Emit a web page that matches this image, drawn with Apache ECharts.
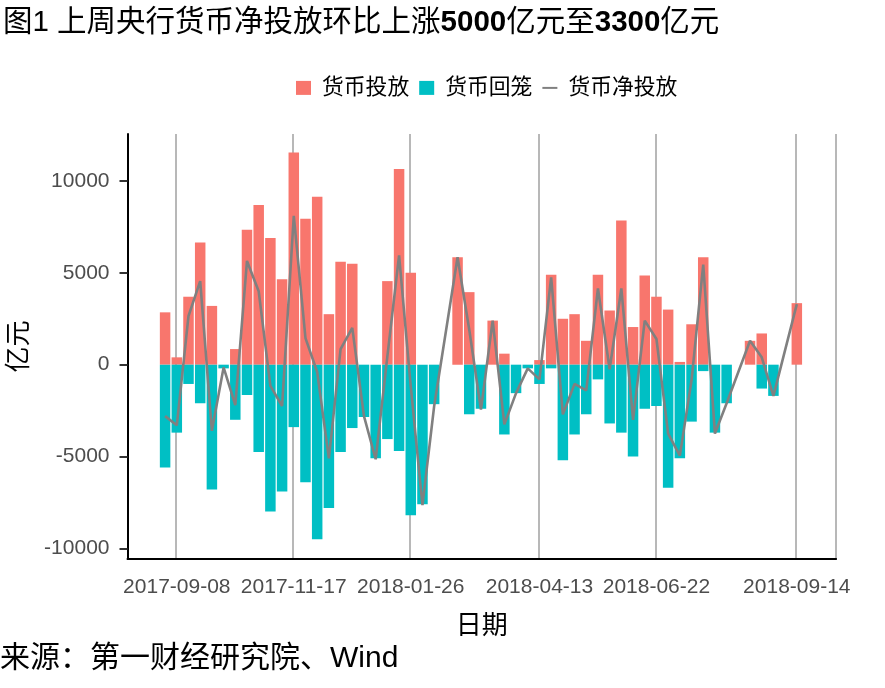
<!DOCTYPE html>
<html><head><meta charset="utf-8">
<script src="https://cdn.jsdelivr.net/npm/echarts@6/dist/echarts.min.js"></script>
<style>html,body{margin:0;padding:0;background:#fff}#c{width:885px;height:688px}</style>
</head><body><div id="c"></div>
<script>
const weeks = ['2017-09-01','2017-09-08','2017-09-15','2017-09-22','2017-09-29','2017-10-06','2017-10-13','2017-10-20','2017-10-27','2017-11-03','2017-11-10','2017-11-17','2017-11-24','2017-12-01','2017-12-08','2017-12-15','2017-12-22','2017-12-29','2018-01-05','2018-01-12','2018-01-19','2018-01-26','2018-02-02','2018-02-09','2018-02-23','2018-03-02','2018-03-09','2018-03-16','2018-03-23','2018-03-30','2018-04-06','2018-04-13','2018-04-20','2018-04-27','2018-05-04','2018-05-11','2018-05-18','2018-05-25','2018-06-01','2018-06-08','2018-06-15','2018-06-22','2018-06-29','2018-07-06','2018-07-13','2018-07-20','2018-07-27','2018-08-03','2018-08-17','2018-08-24','2018-08-31','2018-09-14'];
const injection = [2850,400,3700,6650,3200,0,850,7350,8700,6900,4650,11550,7950,9150,2750,5600,5500,0,0,4550,10650,5000,0,0,5850,3950,0,2400,600,0,0,250,4900,2500,2750,1300,4900,2950,7850,2050,4850,3700,3000,150,2200,5850,0,0,1300,1700,0,3350];
const withdrawal = [-5600,-3700,-1050,-2100,-6800,-200,-3000,-1650,-4750,-8000,-6900,-3400,-6400,-9500,-7800,-4750,-3450,-2850,-5100,-4050,-4700,-8200,-7600,-2150,0,-2700,-2400,0,-3800,-1550,-200,-1050,-200,-5200,-3800,-2700,-800,-3200,-3700,-5000,-2400,-2250,-6700,-5100,-3100,-350,-3700,-2100,0,-1300,-1700,0];
const netInjection = [-2800,-3300,2650,4550,-3600,-150,-2200,5650,4000,-1150,-2250,8100,1450,-400,-5100,850,2000,-2800,-5150,450,5950,-1200,-7650,-2250,5850,1900,-2450,2400,-3250,-1550,-200,-800,4750,-2700,-1050,-1400,4150,-250,4150,-3000,2400,1400,-3750,-4950,-850,5450,-3750,-2100,1300,400,-1700,3300];
const xTickLabels = ['2017-09-08','2017-11-17','2018-01-26','2018-04-13','2018-06-22','2018-09-14'];
const yTickValues = [-10000,-5000,0,5000,10000];
const axisStartDay = '2017-08-10';
const axisEndDay = '2018-10-07';

function dayList(a, b) {
  const out = [];
  let t = Date.parse(a + 'T00:00:00Z');
  const e = Date.parse(b + 'T00:00:00Z');
  while (t <= e) { out.push(new Date(t).toISOString().slice(0, 10)); t += 86400000; }
  return out;
}
const days = dayList(axisStartDay, axisEndDay);
function spread(vals) {
  const m = {};
  weeks.forEach((w, i) => { m[w] = vals[i]; });
  return days.map(d => (d in m ? m[d] : null));
}
const isTick = (i, v) => xTickLabels.indexOf(v) >= 0;
const latin = "'Liberation Sans', Arial, 'Noto Sans CJK SC'";
const cjk = "'Liberation Sans', 'Noto Sans CJK SC'";

const chart = echarts.init(document.getElementById('c'), null, {renderer: 'canvas'});
chart.setOption({
  animation: false,
  backgroundColor: '#fff',
  title: {
    text: '图1 上周央行货币净投放环比上涨{b|5000}亿元至{b|3300}亿元',
    left: 3, top: 8, padding: 0,
    textStyle: {fontSize: 29.5, fontWeight: 'normal', color: '#000', fontFamily: cjk,
      rich: {b: {fontSize: 29.5, fontWeight: 'bold', color: '#000', fontFamily: latin}}}
  },
  legend: {
    left: 296, top: 77, padding: 0,
    itemWidth: 15, itemHeight: 14, itemGap: 10,
    textStyle: {fontSize: 21.8, color: '#000', fontFamily: cjk, padding: [0, 0, 0, 6]},
    data: [
      {name: '货币投放', icon: 'rect'},
      {name: '货币回笼', icon: 'rect', textStyle: {padding: [0, 7, 0, 6]}},
      {name: '货币净投放', icon: 'path://M0,0 M0,12 L30,12 L30,16 L0,16 Z M30,28', itemStyle: {color: '#808080'}}
    ]
  },
  graphic: [{
    type: 'text', left: 0, top: 644,
    style: {text: '来源：第一财经研究院、Wind', fontSize: 30, fill: '#000', fontFamily: cjk}
  }],
  grid: {left: 127.5, top: 134, width: 708.6, height: 425, containLabel: false, outerBoundsMode: 'none'},
  xAxis: {
    type: 'category', data: days, boundaryGap: true,
    axisLine: {onZero: false, lineStyle: {color: '#000', width: 2}},
    axisTick: {alignWithLabel: true, interval: isTick, length: 8, lineStyle: {color: '#333', width: 2}},
    axisLabel: {interval: isTick, color: '#4D4D4D', fontSize: 21, fontFamily: latin, margin: 18},
    splitLine: {show: true, interval: isTick, lineStyle: {color: '#B8B8B8', width: 2}},
    name: '日期', nameLocation: 'middle', nameGap: 55,
    nameTextStyle: {fontSize: 26, color: '#000', fontFamily: cjk}
  },
  yAxis: {
    type: 'value', min: -10580, max: 12560,
    axisLine: {show: true, lineStyle: {color: '#000', width: 2}},
    axisTick: {show: true, customValues: yTickValues, length: 8, lineStyle: {color: '#333', width: 2}},
    axisLabel: {customValues: yTickValues, color: '#4D4D4D', fontSize: 21, fontFamily: latin, margin: 18,
                formatter: v => String(v)},
    splitLine: {show: false},
    name: '亿元', nameLocation: 'middle', nameRotate: 90, nameGap: 94,
    nameTextStyle: {fontSize: 26, color: '#000', fontFamily: cjk}
  },
  series: [
    {name: '货币投放', type: 'bar', stack: 'flow', data: spread(injection), barWidth: 10.5,
     itemStyle: {color: '#F8766D'}},
    {name: '货币回笼', type: 'bar', stack: 'flow', data: spread(withdrawal), barWidth: 10.5,
     itemStyle: {color: '#00BFC4'}},
    {name: '货币净投放', type: 'line', data: spread(netInjection), connectNulls: true,
     symbol: 'none', z: 5, lineStyle: {color: '#808080', width: 2.6}, itemStyle: {color: '#808080'}}
  ]
});
</script>
</body></html>
